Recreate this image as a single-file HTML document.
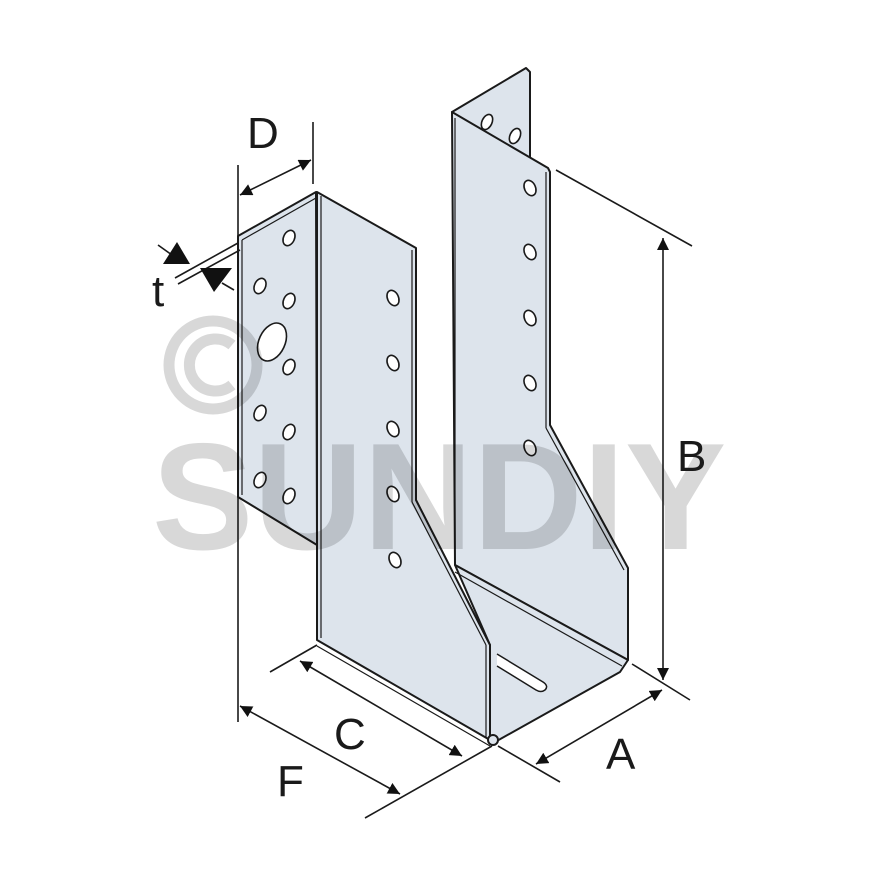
<!DOCTYPE html>
<html><head><style>html,body{margin:0;padding:0;background:#fff}svg{display:block}</style></head>
<body>
<svg width="880" height="880" viewBox="0 0 880 880" xmlns="http://www.w3.org/2000/svg" font-family="Liberation Sans, sans-serif">
<defs>
<marker id="ar" viewBox="0 0 10 10" refX="10" refY="5" markerWidth="12" markerHeight="12" markerUnits="userSpaceOnUse" orient="auto-start-reverse"><path d="M0,0 L10,5 L0,10 z" fill="#111"/></marker>
</defs>
<g stroke="#1a1a1a" stroke-width="2" stroke-linejoin="round" fill="#dde4ec">
<polygon points="452,112 526,68 530,72 530,160 470,125"/>
<path d="M452,112 L548,168 L550,172 L550,425 L628,568 L628,660 L455,565 Z"/>
<line x1="455" y1="118" x2="455" y2="560" stroke-width="1.2"/>
<line x1="546" y1="172" x2="546" y2="428" stroke-width="1.2"/>
<line x1="546" y1="428" x2="624" y2="570" stroke-width="1.2"/>
<polygon points="455,565 628,660 620,672 495,742 490,740 490,645"/>
<line x1="455" y1="572" x2="622" y2="666" stroke-width="1.2"/>
<path d="M497,654 L543,682 Q549,686 545,690 Q541,693 536,690 L497,666" fill="#fff" stroke-width="1.5"/>
<path d="M238,236 L316,192 L317,545 L238,497 Z"/>
<line x1="242" y1="240" x2="242" y2="495" stroke-width="1.2"/>
<line x1="242" y1="240" x2="316" y2="198" stroke-width="1.2"/>
<path d="M317,192 L416,248 L416,500 L490,645 L490,740 L317,640 Z"/>
<line x1="321" y1="196" x2="321" y2="638" stroke-width="1.2"/>
<line x1="412" y1="250" x2="412" y2="502" stroke-width="1.2"/>
<line x1="412" y1="502" x2="486" y2="645" stroke-width="1.2"/>
<line x1="486" y1="645" x2="486" y2="738" stroke-width="1.2"/>
<line x1="317" y1="646" x2="490" y2="746" stroke-width="1.2"/>
<circle cx="493" cy="740" r="5"/>
</g>
<g fill="#fff" stroke="#1a1a1a" stroke-width="1.6">
<ellipse cx="289" cy="238" rx="5.5" ry="8" transform="rotate(25 289 238)"/>
<ellipse cx="260" cy="286" rx="5.5" ry="8" transform="rotate(25 260 286)"/>
<ellipse cx="289" cy="301" rx="5.5" ry="8" transform="rotate(25 289 301)"/>
<ellipse cx="272" cy="342" rx="13" ry="20" transform="rotate(25 272 342)"/>
<ellipse cx="289" cy="367" rx="5.5" ry="8" transform="rotate(25 289 367)"/>
<ellipse cx="260" cy="413" rx="5.5" ry="8" transform="rotate(25 260 413)"/>
<ellipse cx="289" cy="432" rx="5.5" ry="8" transform="rotate(25 289 432)"/>
<ellipse cx="260" cy="480" rx="5.5" ry="8" transform="rotate(25 260 480)"/>
<ellipse cx="289" cy="496" rx="5.5" ry="8" transform="rotate(25 289 496)"/>
<ellipse cx="393" cy="298" rx="5.5" ry="8" transform="rotate(-25 393 298)"/>
<ellipse cx="393" cy="363" rx="5.5" ry="8" transform="rotate(-25 393 363)"/>
<ellipse cx="393" cy="429" rx="5.5" ry="8" transform="rotate(-25 393 429)"/>
<ellipse cx="393" cy="494" rx="5.5" ry="8" transform="rotate(-25 393 494)"/>
<ellipse cx="395" cy="560" rx="5.5" ry="8" transform="rotate(-25 395 560)"/>
<ellipse cx="530" cy="188" rx="5.5" ry="8" transform="rotate(-25 530 188)"/>
<ellipse cx="530" cy="252" rx="5.5" ry="8" transform="rotate(-25 530 252)"/>
<ellipse cx="530" cy="318" rx="5.5" ry="8" transform="rotate(-25 530 318)"/>
<ellipse cx="530" cy="383" rx="5.5" ry="8" transform="rotate(-25 530 383)"/>
<ellipse cx="530" cy="448" rx="5.5" ry="8" transform="rotate(-25 530 448)"/>
<ellipse cx="487" cy="122" rx="5" ry="8" transform="rotate(25 487 122)"/>
<ellipse cx="515" cy="136" rx="5" ry="8" transform="rotate(25 515 136)"/>
</g>
<g opacity="0.15">
<text x="152" y="549" font-size="152" font-weight="bold" fill="#000">SUNDIY</text>
<circle cx="213" cy="365" r="44" fill="none" stroke="#000" stroke-width="11"/>
<path d="M232,345 A26,26 0 1 0 232,385" fill="none" stroke="#000" stroke-width="11"/>
</g>
<g stroke="#1a1a1a" stroke-width="1.6" fill="none">
<line x1="238" y1="165" x2="238" y2="722"/>
<line x1="313" y1="122" x2="313" y2="184"/>
<line x1="240" y1="195" x2="311" y2="160" marker-start="url(#ar)" marker-end="url(#ar)"/>
<line x1="175" y1="278" x2="238" y2="243"/>
<line x1="178" y1="284" x2="240" y2="250"/>
<line x1="158" y1="245" x2="172" y2="255"/>
<line x1="222" y1="283" x2="234" y2="290"/>
<line x1="556" y1="170" x2="692" y2="246"/>
<line x1="632" y1="664" x2="690" y2="700"/>
<line x1="663" y1="238" x2="663" y2="680" marker-start="url(#ar)" marker-end="url(#ar)"/>
<line x1="498" y1="746" x2="560" y2="782"/>
<line x1="536" y1="764" x2="662" y2="690" marker-start="url(#ar)" marker-end="url(#ar)"/>
<line x1="270" y1="672" x2="317" y2="645"/>
<line x1="300" y1="661" x2="462" y2="756" marker-start="url(#ar)" marker-end="url(#ar)"/>
<line x1="365" y1="818" x2="492" y2="746"/>
<line x1="240" y1="706" x2="400" y2="794" marker-start="url(#ar)" marker-end="url(#ar)"/>
</g>
<polygon points="177,242 163,264 190,264" fill="#111"/>
<polygon points="200,268 232,268 214,292" fill="#111"/>
<g font-size="44" fill="#1a1a1a">
<text x="247" y="148">D</text>
<text x="152" y="306">t</text>
<text x="677" y="471">B</text>
<text x="606" y="769">A</text>
<text x="334" y="749">C</text>
<text x="277" y="796">F</text>
</g>
</svg>
</body></html>
